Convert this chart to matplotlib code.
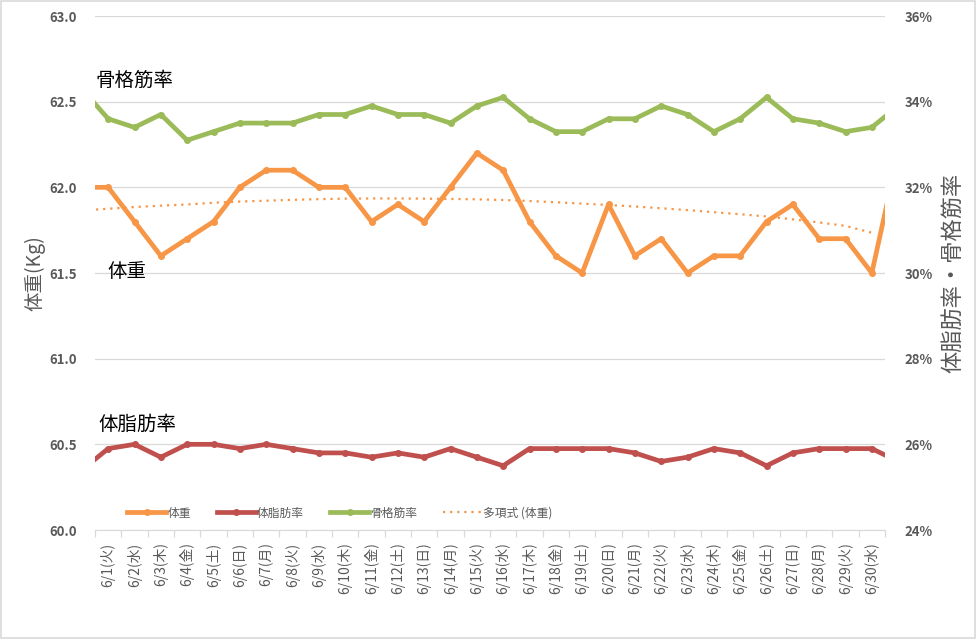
import numpy as np
import matplotlib.pyplot as plt
from matplotlib.patches import Rectangle

plt.rcParams['font.family'] = ['Noto Sans CJK JP', 'DejaVu Sans']

# x categories (6/1 .. 6/30); the series also hold 5/31 and 7/1, which fall outside the axis
days = ['6/1(火)', '6/2(水)', '6/3(木)', '6/4(金)', '6/5(土)', '6/6(日)', '6/7(月)',
        '6/8(火)', '6/9(水)', '6/10(木)', '6/11(金)', '6/12(土)', '6/13(日)', '6/14(月)',
        '6/15(火)', '6/16(水)', '6/17(木)', '6/18(金)', '6/19(土)', '6/20(日)', '6/21(月)',
        '6/22(火)', '6/23(水)', '6/24(木)', '6/25(金)', '6/26(土)', '6/27(日)', '6/28(月)',
        '6/29(火)', '6/30(水)']

# 5/31, 6/1 ... 6/30, 7/1
weight = [62.0, 62.0, 61.8, 61.6, 61.7, 61.8, 62.0, 62.1, 62.1, 62.0, 62.0, 61.8,
          61.9, 61.8, 62.0, 62.2, 62.1, 61.8, 61.6, 61.5, 61.9, 61.6, 61.7, 61.5,
          61.6, 61.6, 61.8, 61.9, 61.7, 61.7, 61.5, 62.2]
body_fat = [25.4, 25.9, 26.0, 25.7, 26.0, 26.0, 25.9, 26.0, 25.9, 25.8, 25.8, 25.7,
            25.8, 25.7, 25.9, 25.7, 25.5, 25.9, 25.9, 25.9, 25.9, 25.8, 25.6, 25.7,
            25.9, 25.8, 25.5, 25.8, 25.9, 25.9, 25.9, 25.6]
muscle = [34.3, 33.6, 33.4, 33.7, 33.1, 33.3, 33.5, 33.5, 33.5, 33.7, 33.7, 33.9,
          33.7, 33.7, 33.5, 33.9, 34.1, 33.6, 33.3, 33.3, 33.6, 33.6, 33.9, 33.7,
          33.3, 33.6, 34.1, 33.6, 33.5, 33.3, 33.4, 33.9]

# polynomial trend of weight as drawn (5/31 .. 6/30)
trend = [61.865, 61.875, 61.885, 61.893, 61.900, 61.910, 61.917, 61.922, 61.927,
         61.931, 61.934, 61.935, 61.935, 61.934, 61.932, 61.930, 61.926, 61.920,
         61.913, 61.905, 61.897, 61.888, 61.878, 61.867, 61.855, 61.843, 61.830,
         61.813, 61.795, 61.775, 61.735]

x = np.arange(len(weight)) - 1
xt = np.arange(len(trend)) - 1

c_weight = '#F79646'
c_fat = '#C0504D'
c_muscle = '#9BBB59'
grey = '#595959'

fig = plt.figure(figsize=(9.77, 6.39), dpi=100)
ax = fig.add_axes([95 / 977, 1 - 530 / 639, 790 / 977, 514 / 639])
ax2 = ax.twinx()

l1, = ax.plot(x, weight, color=c_weight, lw=3.4, marker='o', ms=4, label='体重', zorder=3)
lt, = ax.plot(xt, trend, color=c_weight, lw=1.6, ls=(0, (1, 2.2)), label='多項式 (体重)', zorder=2)
l2, = ax2.plot(x, body_fat, color=c_fat, lw=3.4, marker='o', ms=4, label='体脂肪率')
l3, = ax2.plot(x, muscle, color=c_muscle, lw=3.4, marker='o', ms=4, label='骨格筋率')

ax.set_xlim(-0.5, len(days) - 0.5)
ax.set_ylim(60.0, 63.0)
ax2.set_ylim(24, 36)

ax.set_yticks(np.arange(60.0, 63.01, 0.5))
ax.set_yticklabels([f'{v:.1f}' for v in np.arange(60.0, 63.01, 0.5)])
ax2.set_yticks(range(24, 37, 2))
ax2.set_yticklabels([f'{v}%' for v in range(24, 37, 2)])
ax.tick_params(axis='y', length=0, pad=13, labelsize=9.5, labelcolor=grey)
ax2.tick_params(axis='y', length=0, pad=14, labelsize=9.5, labelcolor=grey)
for a in (ax, ax2):
    for lab in a.get_yticklabels():
        lab.set_fontweight('bold')
    for s in a.spines.values():
        s.set_visible(False)
ax.spines['bottom'].set_visible(True)
ax.spines['bottom'].set_color('#d9d9d9')

ax.grid(axis='y', color='#d9d9d9', lw=0.9)
ax.set_axisbelow(True)

ax.set_xticks(range(len(days)))
ax.set_xticklabels(days, rotation=90, fontsize=10, color=grey)
ax.set_xticks(np.arange(-0.5, len(days), 1), minor=True)
ax.tick_params(axis='x', which='major', length=0, pad=9)
ax.tick_params(axis='x', which='minor', length=5, color='#d9d9d9', width=0.9)

ax.set_ylabel('体重(Kg)', fontsize=14, color=grey, labelpad=3)
ax2.set_ylabel('体脂肪率・骨格筋率', fontsize=16, color=grey, labelpad=6)

ax.text(0.0, 0.874, '骨格筋率', transform=ax.transAxes, fontsize=14, va='center', ha='left')
ax.text(0.016, 0.502, '体重', transform=ax.transAxes, fontsize=14, va='center', ha='left')
ax.text(0.004, 0.205, '体脂肪率', transform=ax.transAxes, fontsize=14, va='center', ha='left')

ax2.legend([l1, l2, l3, lt], ['体重', '体脂肪率', '骨格筋率', '多項式 (体重)'],
           loc='center', bbox_to_anchor=(340 / 977, 1 - 513 / 639),
           bbox_transform=fig.transFigure, ncol=4, frameon=False, fontsize=8.5,
           labelcolor=grey, handlelength=3.3, handletextpad=0.1, columnspacing=2.2,
           numpoints=1)

fig.add_artist(Rectangle((0.001, 0.002), 0.997, 0.996, transform=fig.transFigure,
                         fill=False, edgecolor='#d9d9d9', lw=1.2))

fig.savefig('out.png', dpi=100, facecolor='white')
